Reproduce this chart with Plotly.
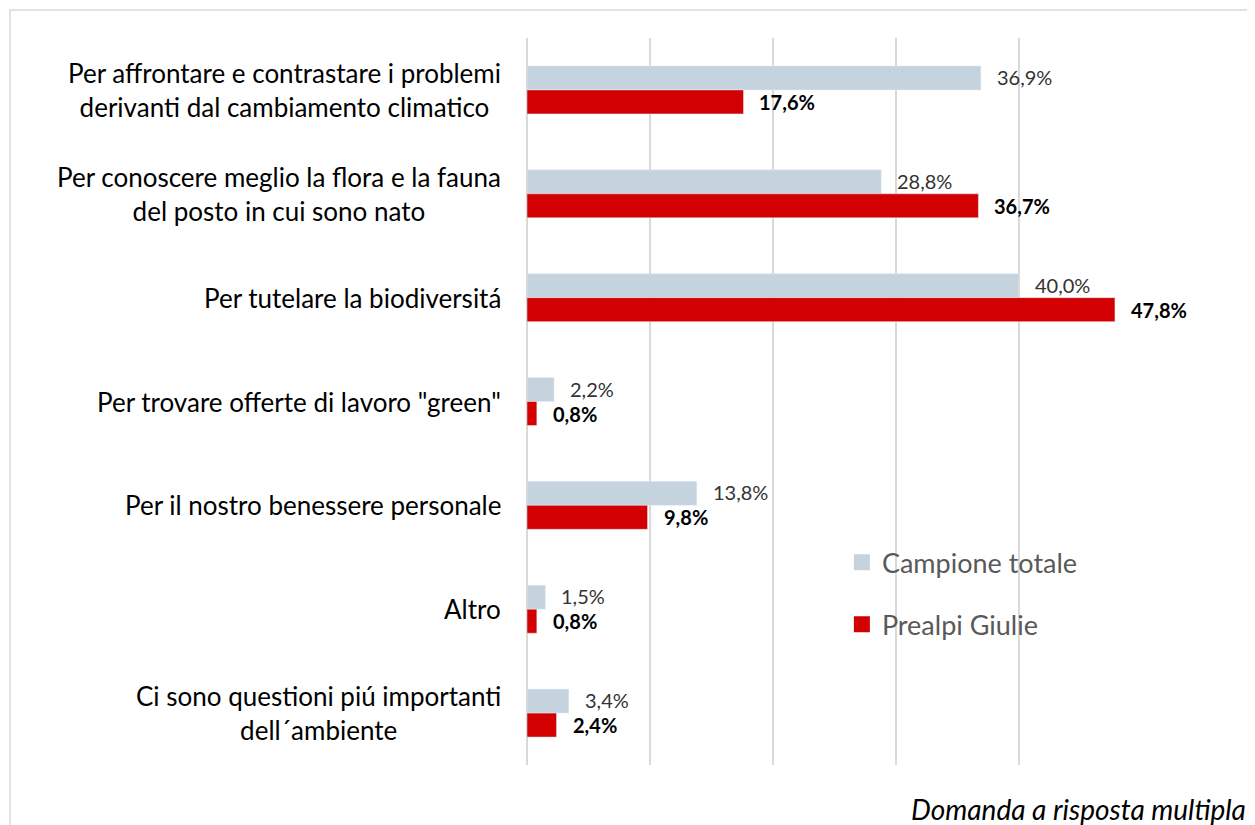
import plotly.graph_objects as go

categories = [
    "Per affrontare e contrastare i problemi<br>derivanti dal cambiamento climatico",
    "Per conoscere meglio la flora e la fauna<br>del posto in cui sono nato",
    "Per tutelare la biodiversitá",
    "Per trovare offerte di lavoro \"green\"",
    "Per il nostro benessere personale",
    "Altro",
    "Ci sono questioni piú importanti<br>dell´ambiente",
]
campione_totale = [36.9, 28.8, 40.0, 2.2, 13.8, 1.5, 3.4]
prealpi_giulie = [17.6, 36.7, 47.8, 0.8, 9.8, 0.8, 2.4]

FONT = "Lato"
GREY = "#C4D3DE"
RED = "#D20000"

fig = go.Figure()
fig.add_trace(go.Bar(y=categories, x=campione_totale, orientation="h",
                     name="Campione totale", marker_color=GREY, showlegend=False))
fig.add_trace(go.Bar(y=categories, x=prealpi_giulie, orientation="h",
                     name="Prealpi Giulie", marker_color=RED, showlegend=False))

# legend-only entries so the square keys can be sized like the original
for name, col, grp in [("Campione totale", GREY, "a"), ("Prealpi Giulie", RED, "b")]:
    fig.add_trace(go.Scatter(x=[None], y=[None], mode="markers", name=name, legendgroup=grp,
                             marker=dict(symbol="square", size=17, color=col)))

def fmt(v):
    return f"{v:.1f}%".replace(".", ",")

# value labels next to each bar
for c, a, b in zip(categories, campione_totale, prealpi_giulie):
    fig.add_annotation(x=a, y=c, text=fmt(a), showarrow=False, xanchor="left",
                       xshift=14, yshift=13, font=dict(family=FONT, size=20, color="#333333"))
    fig.add_annotation(x=b, y=c, text="<b>" + fmt(b) + "</b>", showarrow=False, xanchor="left",
                       xshift=14, yshift=-12, font=dict(family=FONT, size=20, color="#000000"))
    # category label, lines centred, right edge next to the axis
    fig.add_annotation(x=0, y=c, xref="paper", text=c, showarrow=False, xanchor="right",
                       align="center", xshift=-24, font=dict(family=FONT, size=26, color="#000000"))

fig.add_annotation(x=1.1724, y=-0.06, xref="paper", yref="paper", text="<i>Domanda a risposta multipla</i>",
                   showarrow=False, xanchor="right", yanchor="middle",
                   font=dict(family=FONT, size=28, color="#000000"))

# outer frame
fig.add_shape(type="rect", xref="paper", yref="paper", x0=-0.8407, x1=1.2, y0=-0.1, y1=1.0385,
              line=dict(color="#D9D9D9", width=1.5))

# page body has an 8px margin, so the figure is 8px smaller than the window
fig.update_layout(
    width=1247, height=817,
    margin=dict(l=519, r=113, t=30, b=60),
    paper_bgcolor="white", plot_bgcolor="white",
    barmode="group", bargap=0.538, bargroupgap=0,
    showlegend=True,
    legend=dict(x=0.512, y=0.312, xanchor="left", yanchor="top", tracegroupgap=24,
                font=dict(family=FONT, size=27, color="#595959"), bgcolor="rgba(0,0,0,0)"),
    xaxis=dict(range=[0, 50], dtick=10, showticklabels=False, showgrid=True,
               gridcolor="#D9D9D9", gridwidth=2, zeroline=True, zerolinecolor="#D9D9D9",
               zerolinewidth=2, fixedrange=True),
    yaxis=dict(autorange="reversed", showticklabels=False, showgrid=False, zeroline=False),
)

fig.write_html("out.html")
